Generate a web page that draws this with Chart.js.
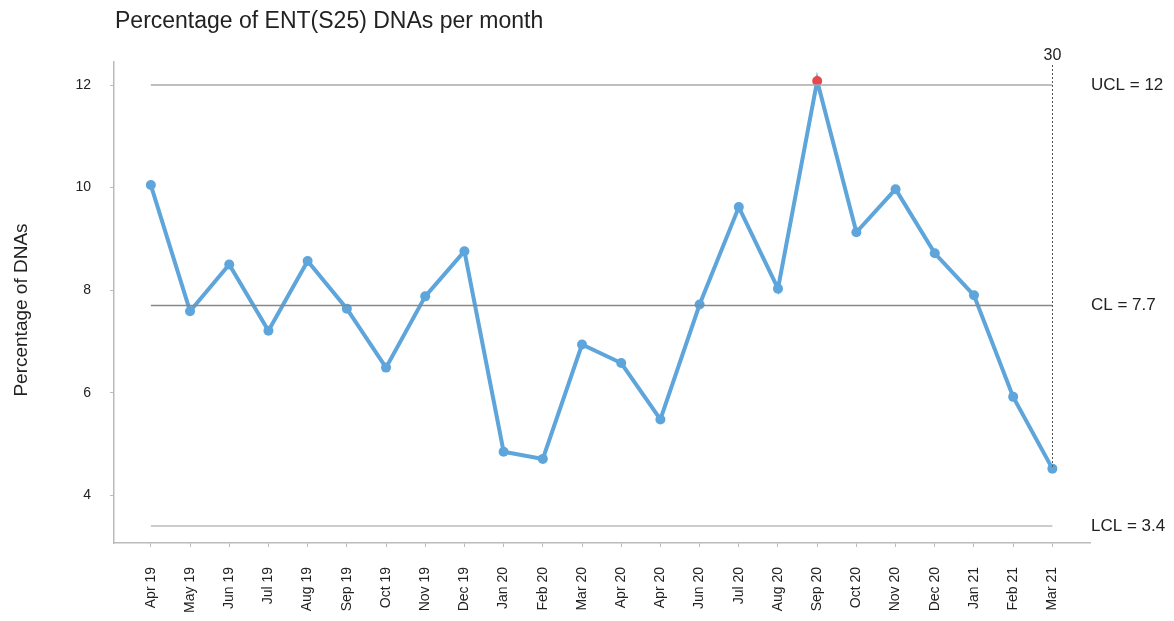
<!DOCTYPE html>
<html lang="en">
<head>
    <meta charset="UTF-8">
    <title>Percentage of ENT(S25) DNAs per month</title>
    <script src="https://cdn.jsdelivr.net/npm/chart.js"></script>
    <style>
        body { margin: 0; background: #fff; }
        #wrap { width: 1174px; height: 621px; }
    </style>
</head>
<body>
    <div id="wrap"><canvas id="spc"></canvas></div>
    <script>
        // months as printed on the chart (second "Apr 20" is as in the source)
        const months = ["Apr 19", "May 19", "Jun 19", "Jul 19", "Aug 19", "Sep 19", "Oct 19", "Nov 19",
            "Dec 19", "Jan 20", "Feb 20", "Mar 20", "Apr 20", "Apr 20", "Jun 20", "Jul 20", "Aug 20",
            "Sep 20", "Oct 20", "Nov 20", "Dec 20", "Jan 21", "Feb 21", "Mar 21"];
        const dnaPct = [10.05, 7.59, 8.50, 7.21, 8.57, 7.64, 6.49, 7.88, 8.76, 4.85, 4.71, 6.94,
            6.58, 5.48, 7.72, 9.62, 8.03, 12.08, 9.13, 9.97, 8.72, 7.90, 5.92, 4.52];
        const yTicks = [4, 6, 8, 10, 12];
        const ucl = 12, cl = 7.7, lcl = 3.4;
        const markerText = "30";

        const pts = dnaPct.map((v, i) => ({ x: i, y: v }));
        const limitLine = v => [{ x: 0, y: v }, { x: months.length - 1, y: v }];
        const FONT = "'Liberation Sans', Arial, sans-serif";

        // title, axis title, limit labels and the dotted marker
        const extras = {
            id: "extras",
            afterDatasetsDraw(chart) {
                const c = chart.ctx, xs = chart.scales.x, ys = chart.scales.y;
                c.save();
                c.fillStyle = "#222";
                c.font = "23px " + FONT;
                c.textBaseline = "alphabetic";
                c.textAlign = "left";
                c.fillText("Percentage of ENT(S25) DNAs per month", 115, 28);

                c.save();
                c.translate(22, 310);
                c.rotate(-Math.PI / 2);
                c.textAlign = "center";
                c.textBaseline = "middle";
                c.font = "19px " + FONT;
                c.fillText("Percentage of DNAs", 0, 0);
                c.restore();

                c.font = "17px " + FONT;
                c.textBaseline = "middle";
                [["UCL = " + ucl, ucl], ["CL = " + cl, cl], ["LCL = " + lcl, lcl]].forEach(([t, v]) => {
                    c.fillText(t, 1091, ys.getPixelForValue(v));
                });

                const last = dnaPct.length - 1;
                const lx = Math.round(xs.getPixelForValue(last)) + 0.5;
                c.strokeStyle = "#555";
                c.lineWidth = 1;
                c.setLineDash([2, 2]);
                c.beginPath();
                c.moveTo(lx, 65);
                c.lineTo(lx, ys.getPixelForValue(dnaPct[last]));
                c.stroke();
                c.setLineDash([]);
                c.textAlign = "center";
                c.textBaseline = "alphabetic";
                c.font = "16px " + FONT;
                c.fillText(markerText, lx, 60);
                c.restore();
            }
        };

        new Chart(document.getElementById("spc"), {
            type: "line",
            data: {
                datasets: [
                    { data: limitLine(ucl), borderColor: "#aaa", borderWidth: 1.5, pointRadius: 0 },
                    { data: limitLine(cl), borderColor: "#888", borderWidth: 1.5, pointRadius: 0 },
                    { data: limitLine(lcl), borderColor: "#bbb", borderWidth: 1.5, pointRadius: 0 },
                    {
                        data: pts,
                        borderColor: "#5DA5DA",
                        borderWidth: 4,
                        pointRadius: 5,
                        pointBorderWidth: 0,
                        pointBackgroundColor: dnaPct.map(v => v > ucl ? "#E5484D" : "#5DA5DA"),
                        tension: 0
                    }
                ]
            },
            options: {
                responsive: true,
                maintainAspectRatio: false,
                animation: false,
                layout: { padding: { top: 62, right: 84, left: 0, bottom: 0 } },
                plugins: { legend: { display: false }, tooltip: { enabled: false } },
                scales: {
                    x: {
                        type: "linear",
                        min: -0.94,
                        max: 23.96,
                        afterBuildTicks: s => { s.ticks = months.map((_, i) => ({ value: i })); },
                        afterFit: s => { s.height = 78; },
                        border: { color: "#bbb", width: 1.5 },
                        grid: { drawOnChartArea: false, tickLength: 4, color: "#bbb" },
                        ticks: {
                            autoSkip: false,
                            minRotation: 90,
                            maxRotation: 90,
                            padding: 20,
                            color: "#222",
                            font: { family: FONT, size: 14 },
                            callback: v => months[v]
                        }
                    },
                    y: {
                        min: 3.07,
                        max: 12.45,
                        afterBuildTicks: s => { s.ticks = yTicks.map(v => ({ value: v })); },
                        afterFit: s => { s.width = 114; },
                        border: { color: "#bbb", width: 1.5 },
                        grid: { drawOnChartArea: false, tickLength: 4, color: "#bbb" },
                        ticks: {
                            padding: 19,
                            color: "#222",
                            font: { family: FONT, size: 14 }
                        }
                    }
                }
            },
            plugins: [extras]
        });
    </script>
</body>
</html>
